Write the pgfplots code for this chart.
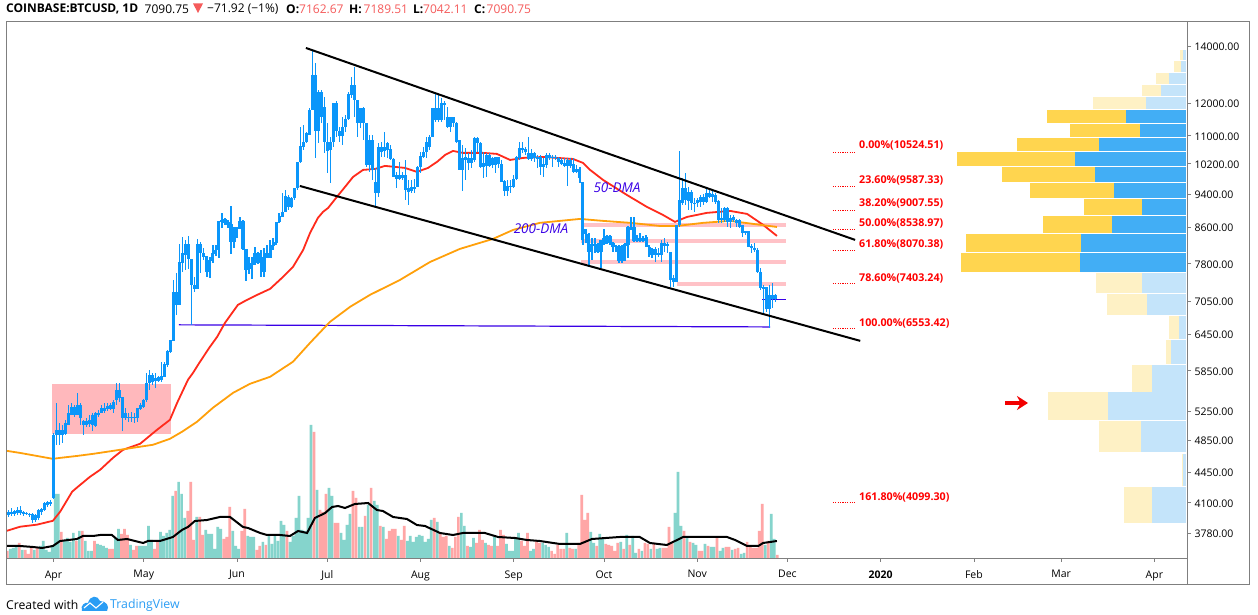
\documentclass[border=0pt]{standalone}
\usepackage{pgfplots}
\usepackage{pgfplotstable}
\usepackage{fontspec}
\pgfplotsset{compat=1.18}
\usetikzlibrary{arrows.meta}
\setmainfont{Open Sans}

\definecolor{tvblue}{HTML}{0A96FA}
\definecolor{maRed}{HTML}{FF2B1C}
\definecolor{maOrange}{HTML}{FFA00A}
\definecolor{volUp}{HTML}{85D4CC}
\definecolor{volDown}{HTML}{FFA6A6}
\definecolor{vpBlue}{HTML}{42AEF5}
\definecolor{vpYellow}{HTML}{FFD54F}
\definecolor{vpBlueL}{HTML}{C4E4FA}
\definecolor{vpYellowL}{HTML}{FEF1C5}
\definecolor{fibBand}{HTML}{FFC2C7}
\definecolor{boxPink}{HTML}{FFB8BC}
\definecolor{dmaText}{HTML}{3A00E6}
\definecolor{ohlcRed}{HTML}{F55B5B}
\definecolor{frameGrey}{HTML}{7F7F7F}
\definecolor{logoBlue}{HTML}{2A9DF4}

% daily candles, d = days after 1 April 2019 (o = bottom of body, c = top of body)
\pgfplotstableread{
d o h l c
-15 3970 4023 3949 4002
-14 3981 4045 3959 4002
-13 3981 4023 3959 4012
-12 3991 4056 3970 4023
-11 3991 4067 3970 4023
-10 3981 4012 3959 4002
-9 3981 4002 3970 3991
-8 3970 3991 3949 3981
-7 3917 3991 3886 3981
-6 3917 3981 3896 3970
-5 3938 4034 3917 4023
-4 4002 4045 3970 4034
-3 4023 4111 4012 4100
-2 4078 4122 4056 4111
-1 4089 4133 4067 4111
0 4155 4940 4140 4922
1 4922 5364 4792 4988
2 4922 5083 4792 4988
3 4922 5056 4817 4988
4 4936 5124 4922 5083
5 5056 5336 5056 5222
6 5194 5364 5194 5307
7 5194 5336 5166 5307
8 5194 5510 5194 5336
9 5152 5364 5056 5336
10 5056 5124 4922 5110
11 5056 5152 5029 5110
12 5070 5194 5029 5124
13 5056 5222 4975 5194
14 5042 5236 5029 5222
15 5194 5264 5166 5222
16 5222 5336 5222 5293
17 5250 5364 5222 5293
18 5279 5364 5250 5322
19 5279 5364 5264 5336
20 5279 5407 5222 5378
21 5407 5661 5336 5555
22 5436 5661 5378 5555
23 5152 5451 4975 5451
24 5152 5293 5124 5222
25 5152 5222 5097 5166
26 5152 5236 5097 5166
27 5152 5222 5083 5166
28 5152 5293 5097 5293
29 5279 5364 5264 5336
30 5307 5420 5293 5407
31 5407 5815 5378 5661
32 5661 5861 5555 5784
33 5676 5815 5630 5784
34 5691 5815 5585 5737
35 5691 5768 5676 5753
36 5706 5990 5676 5768
37 5753 5990 5753 5957
38 5941 6185 5909 6169
39 6152 6353 6135 6353
40 6336 7465 6336 7229
41 6980 7607 6795 7229
42 6980 8223 6980 7835
43 7814 8379 7628 8027
44 7984 8312 7668 8223
45 7898 8401 7688 8223
46 7366 7898 6615 7898
47 7287 7525 7229 7366
48 7287 8334 7287 8223
49 8027 8268 7607 8223
50 7941 8135 7877 8027
51 7628 7962 7525 7962
52 7628 7941 7505 7877
53 7856 8201 7814 8027
54 8005 8201 7962 8091
55 8091 8748 7919 8748
56 8725 8938 8583 8771
57 8702 8818 8656 8794
58 8656 8771 8583 8725
59 8268 9107 8005 8679
60 8268 8606 8135 8583
61 8560 8606 8356 8606
62 8583 8841 8560 8748
63 8113 8771 8091 8748
64 7668 8113 7445 8113
65 7688 7941 7587 7793
66 7772 7941 7485 7814
67 7814 8157 7772 8027
68 7814 8048 7793 8027
69 7628 8091 7525 7941
70 7628 8135 7525 8027
71 7919 8201 7919 8027
72 7919 8312 7919 8201
73 8179 8356 8091 8268
74 8245 8725 8201 8725
75 8725 8938 8702 8865
76 8841 9431 8841 8962
77 8962 9507 8962 9354
78 9082 9380 9010 9329
79 9082 9329 9058 9304
80 9304 9558 9255 9558
81 9558 10251 9507 10251
82 10251 11262 10224 10700
83 10671 11322 10586 10816
84 10816 11110 10787 11080
85 11021 11851 11021 11787
86 11787 13850 11787 12950
87 11140 13377 10361 12950
88 11140 12438 10787 12372
89 11567 12438 11384 12372
90 10816 12207 10502 11883
91 10558 11384 9952 10816
92 10586 10961 9688 10816
93 10816 12012 10671 12012
94 11140 12076 10961 12012
95 10990 11262 10816 11140
96 10990 11567 10729 11262
97 11262 11630 11110 11506
98 11506 12372 11475 12306
99 12273 12881 12172 12607
100 12108 13230 11567 12607
101 11384 12108 10961 12108
102 11384 11851 11231 11851
103 11384 11883 10874 11851
104 10168 11384 10114 11384
105 10168 11021 9979 10874
106 10032 11021 9766 10874
107 9431 10086 9082 9714
108 9431 10787 9329 10671
109 10530 10816 10388 10671
110 10558 11110 10388 10671
111 10586 10816 10361 10787
112 10332 10729 10305 10614
113 9846 10361 9846 10332
114 9793 9979 9558 9899
115 9793 10251 9766 9899
116 9819 9979 9766 9899
117 9507 10305 9255 9899
118 9456 9766 9132 9558
119 9481 9766 9431 9583
120 9532 9793 9431 9583
121 9583 10141 9583 10114
122 10114 10530 9952 10417
123 10388 10671 10361 10530
124 10530 10961 10361 10816
125 10671 11021 10586 10961
126 10961 11851 10961 11851
127 11475 12339 11414 11851
128 11475 12273 11414 11851
129 11475 12172 11414 12012
130 11947 12076 11475 12012
131 11262 11883 11231 11567
132 11262 11567 11110 11567
133 11384 11567 11262 11567
134 10816 11414 10787 11384
135 10032 10874 10032 10874
136 10032 10729 9481 10361
137 10305 10643 9766 10388
138 10224 10502 10032 10361
139 10224 10586 10086 10361
140 10305 10961 10251 10932
141 10787 10961 10530 10932
142 10114 10816 10086 10787
143 10114 10530 9819 10224
144 10141 10502 9846 10445
145 10141 10502 10114 10445
146 10168 10388 10086 10361
147 10168 10388 9952 10388
148 10196 10388 10086 10388
149 9714 10305 9714 10196
150 9481 9766 9354 9740
151 9481 9766 9354 9609
152 9583 9766 9431 9609
153 9583 9899 9558 9793
154 9793 10417 9766 10388
155 10361 10816 10305 10643
156 10586 10816 10502 10643
157 10530 10671 10445 10614
158 10332 10961 10305 10502
159 10332 10614 10278 10502
160 10361 10530 10251 10502
161 10332 10445 10086 10388
162 10114 10445 9899 10388
163 10114 10361 9846 10196
164 10168 10502 10086 10445
165 10361 10502 10305 10445
166 10361 10445 10114 10388
167 10361 10445 10305 10388
168 10251 10388 10114 10361
169 10196 10361 10168 10305
170 10141 10361 10114 10224
171 10141 10361 9609 10305
172 10141 10361 10086 10305
173 9979 10361 9952 10196
174 9979 10168 9952 10059
175 9819 10114 9688 10059
176 8312 9714 8201 9714
177 8447 8560 8245 8560
178 8048 8470 7730 8447
179 8048 8356 7877 8223
180 8179 8356 8027 8223
181 8048 8245 8027 8223
182 8048 8312 7709 8312
183 8223 8560 8201 8356
184 8312 8424 8223 8401
185 8245 8424 8201 8401
186 8157 8268 8048 8245
187 8157 8201 8048 8179
188 7856 8201 7814 8179
189 7856 8201 7814 8179
190 8179 8245 7856 8223
191 8201 8629 7919 8606
192 8560 8841 8538 8606
193 8290 8841 8268 8606
194 8290 8424 8268 8356
195 8290 8470 8268 8356
196 8290 8401 8268 8356
197 8157 8424 8157 8379
198 7984 8201 7941 8157
199 7984 8135 7919 8113
200 7984 8157 7835 8113
201 7984 8135 7941 8027
202 7984 8312 7835 8245
203 8179 8356 8048 8245
204 8179 8268 8027 8223
205 7465 8048 7327 8048
206 7425 7566 7327 7505
207 7425 8656 7425 8656
208 8656 10558 8606 9255
209 9181 9819 9132 9558
210 9255 9952 9132 9558
211 9230 9583 9010 9456
212 9181 9507 9010 9456
213 9157 9304 8962 9181
214 9181 9304 9082 9255
215 9206 9380 9082 9329
216 9206 9405 9132 9329
217 9206 9583 9181 9431
218 9329 9558 9304 9431
219 9329 9507 9206 9405
220 9206 9431 9157 9380
221 8771 9255 8702 9230
222 8771 9058 8702 8818
223 8771 9082 8725 9058
224 8725 9082 8606 9058
225 8725 8889 8583 8818
226 8771 8889 8725 8841
227 8702 8794 8606 8771
228 8606 8794 8583 8771
229 8470 8656 8379 8656
230 8470 8515 8424 8515
231 8157 8515 8157 8515
232 8135 8223 8027 8179
233 8091 8245 8048 8135
234 7628 8135 7607 8091
235 7307 7709 7267 7628
236 7287 7366 6795 7327
237 6906 7327 6851 7327
238 6906 7366 6560 7170
239 7093 7406 6925 7170
240 7090 7189 7042 7162
}\candles

% volume, k = bar number after the first April bar
\pgfplotstableread{
k v
-15 9
-14 10
-13 12
-11 8
-7 8
-5 12
-4 17
-3 8
-2 6
-1 12
0 64
1 64
3 18
4 20
5 16
6 25
8 27
10 17
11 7
12 7
14 14
15 13
16 12
17 10
20 20
21 29
25 13
28 12
29 12
30 12
31 32
32 18
35 26
36 22
37 25
38 28
39 62
41 76
42 64
43 40
47 41
50 28
51 24
52 24
53 9
54 31
55 29
59 27
60 12
61 9
64 22
65 21
66 21
69 16
71 22
72 14
73 22
74 17
75 37
76 33
78 16
79 22
80 40
81 62
82 28
83 27
84 40
85 133
87 68
91 70
92 62
95 25
96 18
97 33
98 44
101 31
102 31
104 53
106 57
107 53
109 31
114 22
117 17
118 22
119 16
120 21
121 23
122 22
123 16
124 19
125 38
127 36
131 12
135 45
136 32
138 11
139 20
143 15
146 21
150 14
151 7
152 7
153 20
154 25
158 7
159 9
162 15
163 13
164 11
170 25
173 9
178 26
179 15
181 24
182 19
188 16
190 23
192 22
193 5
195 7
198 9
200 9
201 10
206 45
207 86
208 32
210 21
212 15
213 13
216 14
218 11
219 11
221 7
222 10
225 8
228 4
229 5
236 13
238 44
239 19
}\volup
\pgfplotstableread{
k v
-16 7
-12 15
-10 8
-9 4
-8 10
-6 10
2 26
7 17
9 27
13 17
18 9
19 9
22 24
23 29
24 23
26 8
27 12
33 9
34 16
40 67
44 47
45 76
46 18
48 41
49 23
56 19
57 21
58 51
62 27
63 49
67 8
68 12
70 13
77 27
86 126
88 48
89 46
90 64
93 35
94 35
99 67
100 60
103 42
105 70
108 32
110 19
111 27
112 29
113 29
115 18
116 32
126 40
128 25
129 21
130 22
132 10
133 21
134 41
137 12
140 15
141 28
142 18
144 13
145 12
147 12
148 28
149 23
155 17
156 12
157 25
160 17
161 15
165 7
166 4
167 13
168 9
169 9
171 10
172 9
174 15
175 63
176 38
177 45
180 12
183 14
184 13
185 12
186 7
187 15
189 9
191 13
194 9
196 15
197 14
199 15
202 10
203 10
204 31
205 15
209 27
211 16
214 7
215 7
217 12
220 20
223 11
224 11
226 9
227 10
230 16
231 11
232 10
233 10
234 27
235 54
237 17
240 3
}\voldown

% one row of the volume profile: price low, price high, blue width, total width, colour suffix
\newcommand{\vprow}[5]{%
  \addplot[fill=vpYellow#5, draw=none] coordinates {(#3,#1)(#4,#1)(#4,#2)(#3,#2)} -- cycle;
  \addplot[fill=vpBlue#5, draw=none] coordinates {(0,#1)(#3,#1)(#3,#2)(0,#2)} -- cycle;
}

\begin{document}
\begin{tikzpicture}[x=1pt,y=1pt]
\useasboundingbox (0,0) rectangle (1258,615);
\fill[white] (0,0) rectangle (1258,615);

% volume profile
\begin{axis}[
    scale only axis, width=1180.5pt, height=536pt,
    at={(6.5pt,57pt)}, anchor=south west,
    hide axis, x dir=reverse, xmin=-1, xmax=1179.5,
    ymode=log, ymin=3535, ymax=14933,
]
\vprow{13483}{13850}{3.3}{6}{L}
\vprow{13066}{13458}{5.3}{11.7}{L}
\vprow{12641}{13031}{16.7}{30}{L}
\vprow{12240}{12607}{25.3}{43.7}{L}
\vprow{11809}{12217}{40.3}{92.7}{L}
\vprow{11374}{11787}{60}{139.3}{}
\vprow{10952}{11353}{46}{116.3}{}
\vprow{10550}{10932}{87}{169.3}{}
\vprow{10141}{10530}{111}{228.7}{}
\vprow{9714}{10114}{91}{183.7}{}
\vprow{9304}{9688}{72}{156.3}{}
\vprow{8890}{9280}{44.3}{102}{}
\vprow{8470}{8865}{74.3}{143}{}
\vprow{8048}{8447}{105}{220}{}
\vprow{7628}{8027}{106}{225}{}
\vprow{7215}{7607}{44}{90}{L}
\vprow{6795}{7195}{39}{79}{L}
\vprow{6365}{6777}{7.3}{16.7}{L}
\vprow{5957}{6353}{15}{20.3}{L}
\vprow{5525}{5941}{34}{54}{L}
\vprow{5124}{5518}{78}{138}{L}
\vprow{4702}{5110}{45}{87}{L}
\vprow{4291}{4677}{3}{4}{L}
\vprow{3886}{4280}{34}{62}{L}
\end{axis}

% volume bars and their average
\begin{axis}[
    scale only axis, width=1180.5pt, height=536pt,
    at={(6.5pt,57pt)}, anchor=south west,
    hide axis, xmin=-15.625, xmax=376.83, ymin=0, ymax=536,
]
\addplot[ybar, bar width=2.7pt, bar shift=0pt, fill=volUp, draw=none]
    table[x expr=\thisrow{k}+0.6, y=v] {\volup};
\addplot[ybar, bar width=2.7pt, bar shift=0pt, fill=volDown, draw=none]
    table[x expr=\thisrow{k}+0.6, y=v] {\voldown};
\addplot[black, line width=2pt] coordinates {
(-15.5,12)(-11.1,12)(-6.8,11)(-3.8,10)(-0.2,12)(2.2,17)(7.8,19)(9.8,22)(13.1,22)(15.5,23)
(19.4,23)(21.4,18)(24.4,19)(29.8,15)(31.4,17)(35.4,17)(39.7,21)(42.7,28)(44.7,31)(47,37)
(51,38)(55.3,41)(58.7,41)(63,31)(64.7,30)(68.7,25)(71,23)(75.3,23)(78.6,22)(81.3,27)
(84.3,25)(86.9,40)(90.3,45)(92.6,51)(94.6,52)(96.9,50)(100.2,54)(104.6,55)(107.5,48)(109.5,47)
(112.9,41)(117.5,39)(120.8,33)(123.5,32)(128.5,25)(132.8,23)(136.1,25)(143.4,25)(147.8,21)(153.4,20)
(157.4,18)(161.7,17)(168.4,14)(175,14)(179,19)(188.2,21)(194.9,21)(198.3,15)(203.9,13)(207.3,18)
(209.3,21)(223.9,21)(226.6,18)(230.6,12)(234.3,12)(235.9,15)(240.5,17)};
\end{axis}

% price pane
\begin{axis}[
    scale only axis, width=1180.5pt, height=536pt,
    at={(6.5pt,57pt)}, anchor=south west,
    xmin=-15.625, xmax=376.83,
    ymode=log, ymin=3535, ymax=14933,
    axis x line*=bottom, axis y line*=right,
    axis line style={frameGrey, line width=0.8pt},
    tick style={frameGrey, line width=0.6pt},
    major tick length=4pt, tick align=outside,
    yminorticks=false, xminorticks=false,
    xtick={0,30,61,91,122,153,183,214,244,275,306,335,366},
    xticklabels={Apr,May,Jun,Jul,Aug,Sep,Oct,Nov,Dec,\textbf{2020},Feb,Mar,Apr},
    ytick={14000,12000,11000,10200,9400,8600,7800,7050,6450,5850,5250,4850,4450,4100,3780},
    yticklabels={14000.00,12000.00,11000.00,10200.00,9400.00,8600.00,7800.00,7050.00,6450.00,5850.00,5250.00,4850.00,4450.00,4100.00,3780.00},
    tick label style={font=\fontsize{10.5}{12}\selectfont},
    yticklabel style={yshift=-0.8pt},
    xticklabel style={yshift=-5pt},
    /pgf/number format/assume math mode=true,
]
\addplot[fill=boxPink, draw=none] coordinates {(-0.5,4931)(39.1,4931)(39.1,5640)(-0.5,5640)} -- cycle;
\addplot[fibBand, line width=4pt] coordinates {(175.4,8656)(243.5,8656)};
\addplot[fibBand, line width=4pt] coordinates {(175.4,8290)(243.5,8290)};
\addplot[fibBand, line width=4pt] coordinates {(175.4,7835)(243.5,7835)};
\addplot[fibBand, line width=4pt] coordinates {(207.3,7385)(243.5,7385)};
\addplot[dmaText, line width=1.2pt] coordinates {(41.7,6615)(238.2,6578)};
\addplot[dmaText, line width=1.2pt] coordinates {(235.7,7087)(243.4,7087)};
\pgfplotsinvokeforeach{10524.51,9587.33,9007.55,8538.97,8070.38,7403.24,6553.42,4099.30}{
  \addplot[draw=red, line width=1pt, dash pattern=on 1.2pt off 1.2pt] coordinates {(259.1,#1)(266.5,#1)};
}
% 50-DMA
\addplot[maRed, line width=1.8pt] coordinates {
(-15.5,3803)(-11.1,3845)(-5.5,3866)(-0.2,3907)(2.2,4002)(6.2,4224)(8.1,4280)(12.1,4396)(15.5,4480)
(19.8,4627)(23.1,4727)(28.8,4805)(34.4,4988)(38.7,5124)(41.1,5364)(44.7,5706)(46.4,5815)(48.7,5990)
(52,6235)(54.4,6405)(57,6650)(61.3,6980)(63.7,7055)(67.7,7170)(72,7287)(76.3,7525)(79.6,7730)
(83,8091)(85.3,8470)(87.9,8818)(89.6,8962)(91.3,9058)(94.2,9329)(96.9,9583)(99.6,9846)(102.9,10032)
(106.9,10059)(110.2,10141)(113.5,10114)(116.9,10086)(120.8,9979)(124.5,10086)(127.5,10251)(130.2,10445)
(132.8,10558)(136.1,10502)(142.8,10502)(147.4,10474)(151.8,10305)(156.1,10361)(162.8,10388)(172.7,10332)
(176,10224)(178.4,10032)(182.7,9766)(190.6,9380)(197.3,9082)(202.6,8889)(206.6,8725)(210.6,8841)
(217.2,8938)(224.9,8986)(230.6,8913)(235.9,8656)(240.5,8401)};
% 200-DMA
\addplot[maOrange, line width=1.8pt] coordinates {
(-15.5,4714)(-11.1,4688)(-5.5,4650)(-0.2,4614)(2.2,4626)(7.8,4650)(13.1,4676)(19.8,4714)(26.4,4753)
(33.1,4792)(38.7,4869)(42.7,4962)(47.7,5097)(53,5293)(59.7,5510)(65.3,5645)(72,5753)(79.6,5990)
(85.3,6303)(91.9,6668)(98.6,6943)(105.2,7170)(115.2,7465)(125.2,7835)(135.1,8113)(146.1,8334)
(152.8,8538)(161.7,8702)(171.7,8771)(175,8794)(182.7,8748)(191.7,8702)(201.6,8629)(207.3,8629)
(216,8702)(224.9,8748)(234.9,8656)(240.5,8606)};
% candles: wicks, then bodies
\addplot[draw=none, mark=none, error bars/.cd, y dir=both, y explicit, error mark=none,
    error bar style={draw=tvblue, line width=1.2pt}]
    table[x=d, y=o, y error plus expr=\thisrow{h}-\thisrow{o}, y error minus expr=\thisrow{o}-\thisrow{l}] {\candles};
\addplot[draw=none, mark=none, error bars/.cd, y dir=plus, y explicit, error mark=none,
    error bar style={draw=tvblue, line width=3.1pt}]
    table[x=d, y=o, y error plus expr=\thisrow{c}-\thisrow{o}] {\candles};
% falling channel
\addplot[black, line width=2pt] coordinates {(83.9,13925)(266.5,8312)};
\addplot[black, line width=2pt] coordinates {(81.9,9609)(268.2,6336)};
\end{axis}

% outer frame
\draw[frameGrey, line width=1pt] (6.5,30) rectangle (1249,593);
\draw[frameGrey, line width=0.8pt] (1187,57) -- (1187,30);

% fib labels
\begin{scope}[every node/.style={anchor=west, inner sep=0pt, text=red, font=\fontsize{10.7}{12}\selectfont\bfseries}]
\node at (859,615-145.5) {0.00\%(10524.51)};
\node at (859,615-180.5) {23.60\%(9587.33)};
\node at (859,615-203.5) {38.20\%(9007.55)};
\node at (859,615-223.5) {50.00\%(8538.97)};
\node at (859,615-244.5) {61.80\%(8070.38)};
\node at (859,615-278.5) {78.60\%(7403.24)};
\node at (859,615-323.5) {100.00\%(6553.42)};
\node at (859,615-497.5) {161.80\%(4099.30)};
\end{scope}
\node[anchor=center, text=dmaText, font=\fontsize{13.5}{15}\selectfont\itshape] at (617,615-187.5) {50-DMA};
\node[anchor=center, text=dmaText, font=\fontsize{13.5}{15}\selectfont\itshape] at (541,615-228.5) {200-DMA};
\draw[-{Stealth[length=11pt,width=14pt]}, red!95!black, line width=3.4pt] (1005,615-403) -- (1028,615-403);

% header line
\begin{scope}[every node/.style={anchor=west, inner sep=0pt, font=\fontsize{12}{14}\selectfont}]
\node at (6,615-9) {\textbf{COINBASE:BTCUSD, 1D}};
\node at (144.5,615-9) {7090.75};
\fill[ohlcRed] (193,615-3.5) -- (203,615-3.5) -- (198,615-13) -- cycle;
\node at (207,615-9) {−71.92 (−1\%)};
\node at (286,615-9) {\textbf{O:}};
\node[text=ohlcRed] at (299,615-9) {7162.67};
\node at (349,615-9) {\textbf{H:}};
\node[text=ohlcRed] at (363.5,615-9) {7189.51};
\node at (413,615-9) {\textbf{L:}};
\node[text=ohlcRed] at (423,615-9) {7042.11};
\node at (474,615-9) {\textbf{C:}};
\node[text=ohlcRed] at (486.5,615-9) {7090.75};
\end{scope}

% footer
\node[anchor=west, inner sep=0pt, font=\fontsize{12.2}{14}\selectfont] at (6,615-605) {Created with};
\node[anchor=west, inner sep=0pt, text=logoBlue, font=\fontsize{12.3}{14}\selectfont] at (110,615-605) {TradingView};
\fill[logoBlue] (82,615-611) .. controls (80,615-605) and (85,615-602) .. (88,615-603)
  .. controls (90,615-595) and (98,615-595) .. (100,615-601)
  .. controls (106,615-601) and (110,615-606) .. (107,615-611) -- cycle;
\draw[white, line width=1.1pt] (84,615-608) -- (90,615-603) -- (96,615-608) -- (103,615-602);
\end{tikzpicture}
\end{document}
